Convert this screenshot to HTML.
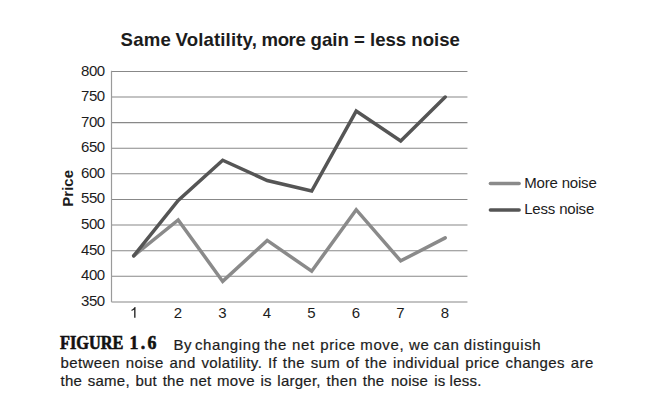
<!DOCTYPE html>
<html><head><meta charset="utf-8"><title>Figure 1.6</title>
<style>
html,body{margin:0;padding:0;background:#fff;}
body{width:665px;height:420px;overflow:hidden;position:relative;font-family:"Liberation Sans",sans-serif;}
svg{position:absolute;left:0;top:0;}
.t{font-family:"Liberation Sans",sans-serif;font-size:15px;fill:#1c1c1c;}
.b{font-family:"Liberation Sans",sans-serif;font-weight:bold;fill:#1c1c1c;}
.ln{position:absolute;left:60.5px;font-family:"Liberation Sans",sans-serif;font-size:15px;line-height:18px;color:#1c1c1c;white-space:nowrap;word-spacing:1.2px;-webkit-text-stroke:0.2px #1c1c1c;}
.fig{position:absolute;left:60.3px;top:331.6px;font-family:"Liberation Serif",serif;font-weight:bold;font-size:17.8px;line-height:22px;letter-spacing:0px;word-spacing:0;color:#111;-webkit-text-stroke:0.6px #111;white-space:nowrap;}
.w1{top:335.5px;letter-spacing:0.6px;}
#l2{top:353.65px;letter-spacing:0.4px;}
#l3{top:371.6px;letter-spacing:0.25px;}
.w3{top:371.6px;letter-spacing:0.25px;}
</style></head><body>
<svg width="665" height="420" viewBox="0 0 665 420">
<rect width="665" height="420" fill="#fff"/>
<text y="45.8" class="b" font-size="18.6px"><tspan x="120.6" letter-spacing="0.25">Same</tspan><tspan x="175.5" letter-spacing="0.14">Volatility,</tspan><tspan x="261.5" letter-spacing="-0.4">more</tspan><tspan x="310.56" letter-spacing="0">gain = less noise</tspan></text>
<line x1="111.45" y1="71.40" x2="467.45" y2="71.40" stroke="#888888" stroke-width="1.05"/>
<line x1="111.45" y1="97.01" x2="467.45" y2="97.01" stroke="#888888" stroke-width="1.05"/>
<line x1="111.45" y1="122.62" x2="467.45" y2="122.62" stroke="#888888" stroke-width="1.05"/>
<line x1="111.45" y1="148.23" x2="467.45" y2="148.23" stroke="#888888" stroke-width="1.05"/>
<line x1="111.45" y1="173.84" x2="467.45" y2="173.84" stroke="#888888" stroke-width="1.05"/>
<line x1="111.45" y1="199.46" x2="467.45" y2="199.46" stroke="#888888" stroke-width="1.05"/>
<line x1="111.45" y1="225.07" x2="467.45" y2="225.07" stroke="#888888" stroke-width="1.05"/>
<line x1="111.45" y1="250.68" x2="467.45" y2="250.68" stroke="#888888" stroke-width="1.05"/>
<line x1="111.45" y1="276.29" x2="467.45" y2="276.29" stroke="#888888" stroke-width="1.05"/>
<line x1="111.45" y1="301.90" x2="467.45" y2="301.90" stroke="#888888" stroke-width="1.05"/>
<line x1="111.5" y1="70.80000000000001" x2="111.5" y2="301.9" stroke="#9a9a9a" stroke-width="1.2"/>
<text x="104.8" y="76.20" text-anchor="end" class="t" letter-spacing="-0.42">800</text>
<text x="104.8" y="101.01" text-anchor="end" class="t" letter-spacing="-0.42">750</text>
<text x="104.8" y="126.62" text-anchor="end" class="t" letter-spacing="-0.42">700</text>
<text x="104.8" y="152.23" text-anchor="end" class="t" letter-spacing="-0.42">650</text>
<text x="104.8" y="177.84" text-anchor="end" class="t" letter-spacing="-0.42">600</text>
<text x="104.8" y="203.46" text-anchor="end" class="t" letter-spacing="-0.42">550</text>
<text x="104.8" y="229.07" text-anchor="end" class="t" letter-spacing="-0.42">500</text>
<text x="104.8" y="254.68" text-anchor="end" class="t" letter-spacing="-0.42">450</text>
<text x="104.8" y="280.29" text-anchor="end" class="t" letter-spacing="-0.42">400</text>
<text x="104.8" y="305.90" text-anchor="end" class="t" letter-spacing="-0.42">350</text>
<path transform="translate(129.9,317.8) scale(0.00732422,-0.00732422)" fill="#1c1c1c" d="M763 0H583V1147Q518 1085 412.5 1023Q307 961 223 930V1104Q374 1175 487 1276Q600 1377 647 1472H763Z"/>
<text x="177.90" y="317.8" text-anchor="middle" class="t">2</text>
<text x="222.40" y="317.8" text-anchor="middle" class="t">3</text>
<text x="266.90" y="317.8" text-anchor="middle" class="t">4</text>
<text x="311.40" y="317.8" text-anchor="middle" class="t">5</text>
<text x="355.90" y="317.8" text-anchor="middle" class="t">6</text>
<text x="400.40" y="317.8" text-anchor="middle" class="t">7</text>
<text x="444.90" y="317.8" text-anchor="middle" class="t">8</text>
<text transform="translate(72.6,188.3) rotate(-90)" text-anchor="middle" class="b" font-size="15px">Price</text>
<polyline points="133.70,255.80 178.20,219.94 222.70,281.41 267.20,240.43 311.70,271.17 356.20,209.70 400.70,260.92 445.20,237.87" fill="none" stroke="#8a8a8a" stroke-width="3.5" stroke-linecap="round" stroke-linejoin="miter"/>
<polyline points="133.70,255.80 178.20,200.48 222.70,160.27 267.20,180.50 311.70,191.00 356.20,111.10 400.70,141.06 445.20,97.01" fill="none" stroke="#555555" stroke-width="3.5" stroke-linecap="round" stroke-linejoin="miter"/>
<line x1="490.4" y1="183.5" x2="519.1" y2="183.5" stroke="#8a8a8a" stroke-width="3.5" stroke-linecap="round"/>
<line x1="490.4" y1="210" x2="519.1" y2="210" stroke="#555555" stroke-width="3.5" stroke-linecap="round"/>
<text x="524.2" y="187.6" class="t" letter-spacing="-0.18">More noise</text>
<text x="524.2" y="214" class="t" letter-spacing="-0.18">Less noise</text>
</svg>
<div class="fig" style="left:60.2px;transform:scaleX(0.915);transform-origin:0 0;">FIGURE</div><div class="fig" style="left:129.5px;letter-spacing:2.3px;">1.6</div>
<span class="ln w1" style="left:173.5px">By</span><span class="ln w1" style="left:194.9px">changing</span><span class="ln w1" style="left:264.2px">the</span><span class="ln w1" style="left:292.0px">net</span><span class="ln w1" style="left:320.3px">price</span><span class="ln w1" style="left:360.3px">move,</span><span class="ln w1" style="left:409.0px">we</span><span class="ln w1" style="left:433.5px">can</span><span class="ln w1" style="left:463.8px">distinguish</span>
<div class="ln" id="l2">between noise and volatility. If the sum of the individual price changes are</div>
<div class="ln" id="l3">the same, but the net move is larger, <span style="letter-spacing:0.45px">then</span></div><span class="ln w3" style="left:362.8px">the</span><span class="ln w3" style="left:391.0px">noise</span><span class="ln w3" style="left:434.2px">is</span><span class="ln w3" style="left:449.6px">less.</span>
</body></html>
